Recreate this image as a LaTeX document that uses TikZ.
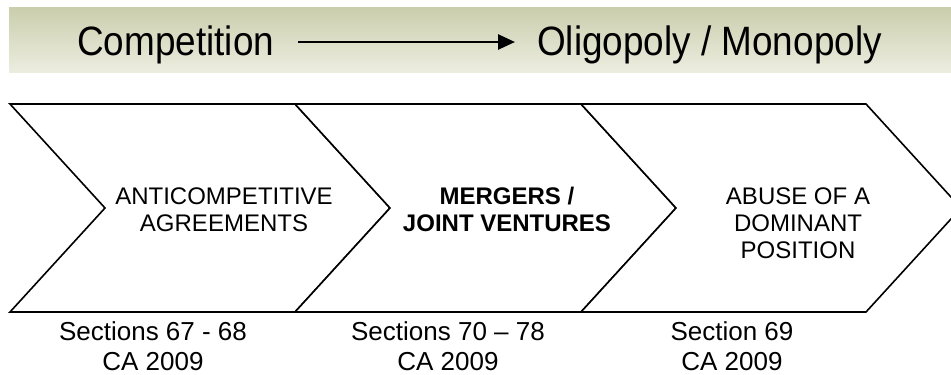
\documentclass[tikz,border=0pt]{standalone}
\usepackage{fontspec}
\setmainfont{Liberation Sans}
\newfontfamily\titlefont[FakeStretch=0.9]{Liberation Sans}
\usetikzlibrary{arrows.meta}
\definecolor{bantop}{RGB}{202,206,172}
\definecolor{banbot}{RGB}{236,237,224}
\tikzset{
  chev/.style={draw=black, line width=1.6pt, line join=miter, fill=white},
  chevtext/.style={align=center, font=\fontsize{24}{27}\selectfont, inner sep=0pt},
  lawtext/.style={align=center, font=\fontsize{26}{30}\selectfont, inner sep=0pt},
  titletext/.style={font=\titlefont\fontsize{41}{44}\selectfont, inner xsep=0pt, inner ysep=0pt, text height=26pt, text depth=0pt},
  titlearrow/.style={line width=2.6pt, -{Triangle[length=17pt,width=15pt]}}
}
\begin{document}
\begin{tikzpicture}[x=1pt,y=-1pt]
\useasboundingbox (0,0) rectangle (951,375);
\clip (0,0) rectangle (951,375);
% banner
\shade[top color=bantop, bottom color=banbot] (9,7) rectangle (951,72);
\node[titletext, anchor=base west] (comp) at (77,55) {Competition};
\node[titletext, anchor=base west] (olig) at (537,55) {Oligopoly / Monopoly};
\draw[titlearrow, shorten <=24pt, shorten >=22pt] (comp.east) -- (olig.west);
% chevrons
\draw[chev] (10,104) -- (295,104) -- (390,208) -- (295,312) -- (10,312) -- (105,208) -- cycle;
\draw[chev] (295,104) -- (581,104) -- (676,208) -- (581,312) -- (295,312) -- (390,208) -- cycle;
\draw[chev] (581,104) -- (866,104) -- (961,208) -- (866,312) -- (581,312) -- (676,208) -- cycle;
% chevron texts
\node[chevtext] (anti) at (224,210) {ANTICOMPETITIVE\\AGREEMENTS};
\node[chevtext, font=\fontsize{24}{27}\selectfont\bfseries] (merg) at (507,209) {MERGERS /\\JOINT VENTURES};
\node[chevtext] (abuse) at (798,223) {ABUSE OF A\\DOMINANT\\POSITION};
% law references
\node[lawtext] (sec1) at (153,346) {Sections 67 - 68\\CA 2009};
\node[lawtext] (sec2) at (448,346) {Sections 70 – 78\\CA 2009};
\node[lawtext] (sec3) at (732,346) {Section 69\\CA 2009};
\end{tikzpicture}
\end{document}
